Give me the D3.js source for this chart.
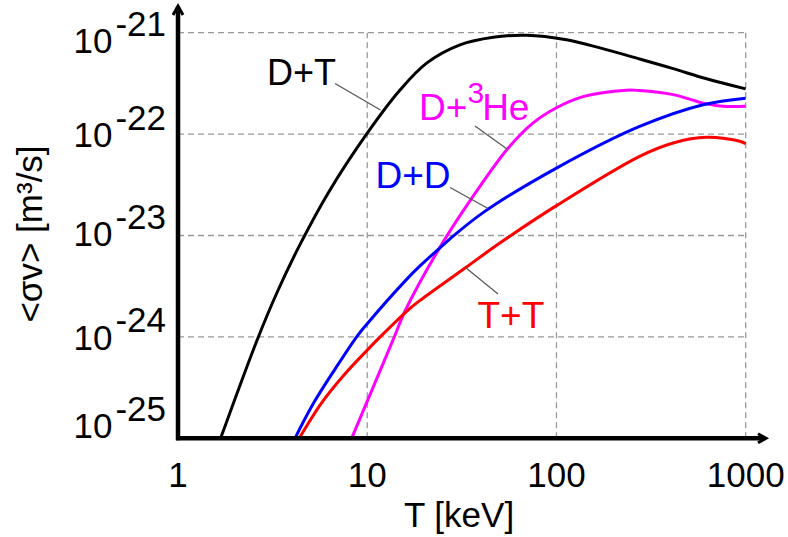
<!DOCTYPE html>
<html>
<head>
<meta charset="utf-8">
<script src="https://cdn.jsdelivr.net/npm/d3@7/dist/d3.min.js"></script>
<style>
  html, body { margin: 0; padding: 0; background: #fff; }
  svg { display: block; font-family: "Liberation Sans", Arial, sans-serif; }
</style>
</head>
<body>
<svg id="chart" width="788" height="537"></svg>
<script>
// ---------- data (T in keV, <sigma v> in m^3/s) ----------
const xTicks = [1, 10, 100, 1000];
const xTickLabels = ["1", "10", "100", "1000"];
const yTicks = [1e-21, 1e-22, 1e-23, 1e-24, 1e-25];
const yTickExponents = ["-21", "-22", "-23", "-24", "-25"];

const tDT  = [1.68, 2.62, 3.36, 4.41, 6.22, 10, 14.9, 20.6, 30.9, 46.3, 69.5, 113, 170, 275, 414, 621, 1000];
const svDT = [1e-25, 9.33e-25, 2.82e-24, 8.13e-24, 2.63e-23, 1.02e-22, 2.72e-22, 5.01e-22, 7.59e-22, 9.02e-22, 9.44e-22, 8.51e-22, 7.08e-22, 5.50e-22, 4.42e-22, 3.51e-22, 2.79e-22];

const tDHe  = [8.27, 13.9, 15.8, 24.7, 39.4, 55.6, 75.3, 100, 138, 234, 274, 414, 506, 596, 757, 1000];
const svDHe = [1e-25, 1e-24, 1.78e-24, 8.13e-24, 3.05e-23, 7.29e-23, 1.29e-22, 1.82e-22, 2.34e-22, 2.71e-22, 2.69e-22, 2.45e-22, 2.21e-22, 2.02e-22, 1.88e-22, 1.88e-22];

const tDD  = [4.15, 5.18, 6.8, 8.85, 10, 16.1, 19, 24.7, 27.3, 41.3, 100, 275, 596, 1000];
const svDD = [1e-25, 2.19e-25, 4.9e-25, 1.02e-24, 1.35e-24, 3.67e-24, 5.01e-24, 7.82e-24, 9.23e-24, 1.70e-23, 4.62e-23, 1.19e-22, 1.95e-22, 2.26e-22];

const tTT  = [4.37, 5.74, 7.5, 10, 11.7, 16.1, 19, 33.2, 52, 100, 275, 414, 621, 931, 1000];
const svTT = [1e-25, 2.24e-25, 4.17e-25, 7.41e-25, 1e-24, 1.78e-24, 2.29e-24, 4.84e-24, 8.81e-24, 1.97e-23, 6.03e-23, 8.18e-23, 9.29e-23, 8.51e-23, 8.05e-23];

// label anchors and leader lines, in data coordinates
const seriesNames  = ["DT", "DHe", "DD", "TT"];
const labelT       = [2.95, 18.8, 11.05, 38.25];
const labelSV      = [3.05e-22, 1.38e-22, 2.92e-23, 1.22e-24];
const leaderT0     = [6.76, 37.1, 27.4, 33.3];
const leaderSV0    = [3.16e-22, 1.20e-22, 2.97e-23, 4.78e-24];
const leaderT1     = [11.75, 54.8, 43.5, 49.1];
const leaderSV1    = [1.73e-22, 7.13e-23, 1.85e-23, 2.65e-24];

// ---------- layout ----------
const svg = d3.select("#chart");
const x = d3.scaleLog().domain([1, 1000]).range([178, 745.7]);
const y = d3.scaleLog().domain([1e-25, 1e-21]).range([438.3, 32.7]);
const FONT = "Liberation Sans, Arial, sans-serif";

// grid
const grid = svg.append("g").attr("stroke", "#999").attr("stroke-width", 1.3)
  .attr("stroke-dasharray", "6,4").attr("fill", "none");
grid.selectAll("line.h").data(yTicks.slice(0, 4)).join("line")
  .attr("x1", x(1)).attr("x2", x(1000))
  .attr("y1", d => y(d)).attr("y2", d => y(d));
grid.selectAll("line.v").data(xTicks.slice(1)).join("line")
  .attr("x1", d => x(d)).attr("x2", d => x(d))
  .attr("y1", y(1e-25)).attr("y2", y(1e-21));

// curves
svg.append("clipPath").attr("id", "clip").append("rect")
  .attr("x", x(1)).attr("y", 0).attr("width", x(1000) - x(1) + 1).attr("height", y(1e-25));
const line = d3.line().x(d => x(d[0])).y(d => y(d[1])).curve(d3.curveCatmullRom.alpha(0.5));
const curves = [
  { t: tDT, v: svDT, color: "#000000" },
  { t: tDHe, v: svDHe, color: "#ff00ff" },
  { t: tDD, v: svDD, color: "#0000ff" },
  { t: tTT, v: svTT, color: "#ff0000" }
];
svg.append("g").attr("clip-path", "url(#clip)").selectAll("path").data(curves).join("path")
  .attr("d", c => line(c.t.map((t, i) => [t, c.v[i]])))
  .attr("fill", "none").attr("stroke", c => c.color).attr("stroke-width", 3)
  .attr("stroke-linejoin", "round");

// leader lines
svg.append("g").selectAll("line").data(seriesNames).join("line")
  .attr("x1", (d, i) => x(leaderT0[i])).attr("y1", (d, i) => y(leaderSV0[i]))
  .attr("x2", (d, i) => x(leaderT1[i])).attr("y2", (d, i) => y(leaderSV1[i]))
  .attr("stroke", "#555").attr("stroke-width", 1.2);

// labels
const lab = svg.append("g").attr("font-family", FONT);
lab.append("text").attr("x", x(labelT[0])).attr("y", y(labelSV[0]))
  .attr("font-size", 36).attr("fill", "#000").text("D+T");
const he = lab.append("text").attr("x", x(labelT[1])).attr("y", y(labelSV[1]))
  .attr("font-size", 37).attr("fill", "#ff00ff");
he.append("tspan").text("D+");
he.append("tspan").attr("dy", -17).attr("font-size", 30).text("3");
he.append("tspan").attr("dy", 17).attr("dx", -2).text("He");
lab.append("text").attr("x", x(labelT[2])).attr("y", y(labelSV[2]))
  .attr("font-size", 37).attr("fill", "#0000ff").text("D+D");
lab.append("text").attr("x", x(labelT[3])).attr("y", y(labelSV[3]))
  .attr("font-size", 37).attr("fill", "#ff0000").text("T+T");

// axes
const ax = svg.append("g").attr("stroke", "#000").attr("fill", "none");
ax.append("line").attr("x1", x(1)).attr("x2", x(1)).attr("y1", y(1e-25) + 2).attr("y2", 7)
  .attr("stroke-width", 4.5);
ax.append("path").attr("d", `M${x(1) - 5},15 L${x(1)},6 L${x(1) + 5},15`)
  .attr("stroke-width", 3).attr("stroke-linejoin", "miter");
ax.append("line").attr("x1", x(1) - 2).attr("x2", 765).attr("y1", y(1e-25)).attr("y2", y(1e-25))
  .attr("stroke-width", 4.5);
ax.append("path").attr("d", `M758,${y(1e-25) - 4.5} L766,${y(1e-25)} L758,${y(1e-25) + 4.5}`)
  .attr("stroke-width", 3).attr("stroke-linejoin", "miter");

// x tick labels
svg.append("g").attr("font-family", FONT).attr("font-size", 35).attr("text-anchor", "middle")
  .selectAll("text").data(xTicks).join("text")
  .attr("x", d => x(d)).attr("y", 487).text((d, i) => xTickLabels[i]);

// y tick labels 10^n
const yNudge = [20.6, 13.2, 10.7, 12.7, 0];
const yt = svg.append("g").attr("font-family", FONT).attr("font-size", 35).attr("text-anchor", "end")
  .selectAll("text").data(yTicks).join("text")
  .attr("x", 166).attr("y", (d, i) => y(d) + yNudge[i]);
yt.append("tspan").text("10");
yt.append("tspan").attr("dy", -17.5).attr("dx", 3).text((d, i) => yTickExponents[i]);

// axis titles
svg.append("text").attr("font-family", FONT).attr("font-size", 35).attr("text-anchor", "middle")
  .attr("x", 459).attr("y", 527).text("T [keV]");
svg.append("text").attr("font-family", FONT).attr("font-size", 35).attr("text-anchor", "middle")
  .attr("transform", "translate(41.5,234) rotate(-90)").text("<σv> [m³/s]");
</script>
</body>
</html>
